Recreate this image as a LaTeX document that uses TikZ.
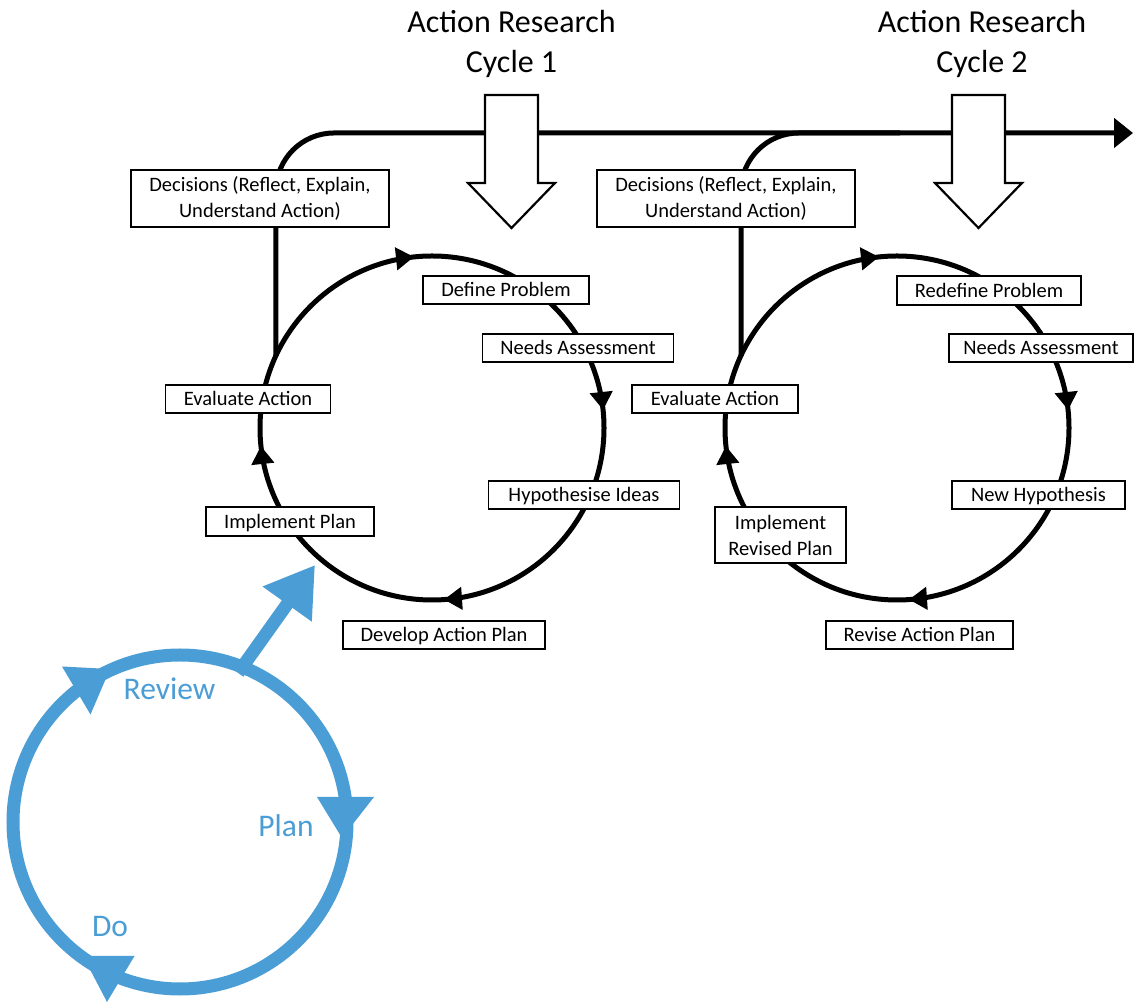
\documentclass[tikz,border=0pt]{standalone}
\usepackage{fontspec}
\setmainfont{Carlito}
\usetikzlibrary{arrows.meta,decorations.markings,calc}

\definecolor{pdsablue}{RGB}{75,157,213}

\begin{document}
\begin{tikzpicture}[x=1pt,y=1pt,
  box/.style={draw=black, line width=1.8pt, fill=white, inner sep=0pt,
    font=\fontsize{20.5}{26}\selectfont, minimum height=28.5pt,
    text height=13.2pt, text depth=0pt},
  box2/.style={draw=black, line width=1.8pt, fill=white, inner sep=0pt,
    font=\fontsize{20.5}{26}\selectfont, align=center},
  title/.style={inner sep=0pt, align=center, font=\fontsize{32}{39.5}\selectfont},
  cue/.style={inner sep=0pt, anchor=base, text=pdsablue, font=\fontsize{31.5}{36}\selectfont},
  link/.style={line width=5pt, draw=black, rounded corners=58pt},
  ring/.style={line width=5pt, draw=black, postaction={decorate},
    decoration={markings,
      mark=at position 0.2389 with {\arrow{Triangle[length=18pt,width=22pt]}},
      mark=at position 0.4833 with {\arrow{Triangle[length=18pt,width=22pt]}},
      mark=at position 0.7333 with {\arrow{Triangle[length=18pt,width=22pt]}},
      mark=at position 0.9833 with {\arrow{Triangle[length=18pt,width=22pt]}}}},
  blockarrow/.style={draw=black, line width=2.2pt, fill=white, line join=miter},
  pdsa/.style={line width=13pt, draw=pdsablue},
]
% canvas
\fill[white] (0,0) rectangle (1134,1003);
\useasboundingbox (0,0) rectangle (1134,1003);

% centres of the two research cycles and the small PDSA loop
\coordinate (c1) at (432,575);
\coordinate (c2) at (897,575);
\coordinate (b0) at (180,181);

% points where the decision lines leave the cycles
\path (c1) ++(155.1:172) coordinate (j1);
\path (c2) ++(155.1:172) coordinate (j2);
\coordinate (endR) at (1133,870);
\coordinate (m2) at (900,870);

% timeline with the decision branches
\draw[link, -{Triangle[length=19pt,width=29pt]}] (j1) |- (endR);
\draw[link] (j2) |- (m2);

% the two cycles, clockwise
\draw[ring] (c1) ++(0:172) arc[start angle=0, delta angle=-360, radius=172];
\draw[ring] (c2) ++(0:172) arc[start angle=0, delta angle=-360, radius=172];

% hollow block arrows entering each cycle
\filldraw[blockarrow] (485,908) -- (538,908) -- (538,820) -- (555,820)
  -- (511.5,775) -- (468,820) -- (485,820) -- cycle;
\filldraw[blockarrow] (952,908) -- (1005,908) -- (1005,820) -- (1022,820)
  -- (978.5,775) -- (935,820) -- (952,820) -- cycle;

% titles
\node[title] (t1) at (511.5,959) {Action Research\\Cycle 1};
\node[title] (t2) at (982,959) {Action Research\\Cycle 2};

% cycle 1 steps
\node[box2, minimum width=258pt, minimum height=57pt] (dec1) at (260,804.5)
  {Decisions (Reflect, Explain,\\Understand Action)};
\node[box, minimum width=166pt] (define) at (506,713) {Define Problem};
\node[box, minimum width=191pt] (needs1) at (578,655) {Needs Assessment};
\node[box, minimum width=165pt] (eval1) at (248,604) {Evaluate Action};
\node[box, minimum width=191pt] (hyp) at (584,508) {Hypothesise Ideas};
\node[box, minimum width=168pt] (impl1) at (290,481.5) {Implement Plan};
\node[box, minimum width=202pt] (develop) at (444,368) {Develop Action Plan};

% cycle 2 steps
\node[box2, minimum width=258pt, minimum height=57pt] (dec2) at (726,804.5)
  {Decisions (Reflect, Explain,\\Understand Action)};
\node[box, minimum width=184pt] (redefine) at (989,712.5) {Redefine Problem};
\node[box, minimum width=184pt] (needs2) at (1041,655) {Needs Assessment};
\node[box, minimum width=166pt] (eval2) at (715,604) {Evaluate Action};
\node[box, minimum width=173pt] (newhyp) at (1038.5,508) {New Hypothesis};
\node[box2, minimum width=131pt, minimum height=56pt] (impl2) at (780.5,468)
  {Implement\\Revised Plan};
\node[box, minimum width=187pt] (revise) at (919.5,368) {Revise Action Plan};

% PDSA loop
\draw[pdsa] (b0) circle[radius=167];
\fill[pdsablue] (62,336.5) -- (90.5,288.5) -- (110,334) -- cycle;
\fill[pdsablue] (317,206) -- (374,206) -- (342,165) -- cycle;
\fill[pdsablue] (83,47) -- (134.5,47) -- (107,1) -- cycle;
\path (b0) ++(68.7:160) coordinate (bs);
\coordinate (btip) at (315,438);
\draw[pdsa, -{Triangle[length=48pt,width=57pt]}] (bs) -- (btip);

\node[cue] (review) at (169.5,303) {Review};
\node[cue] (plan) at (286,166.3) {Plan};
\node[cue] (do) at (110,66.3) {Do};
\end{tikzpicture}
\end{document}
